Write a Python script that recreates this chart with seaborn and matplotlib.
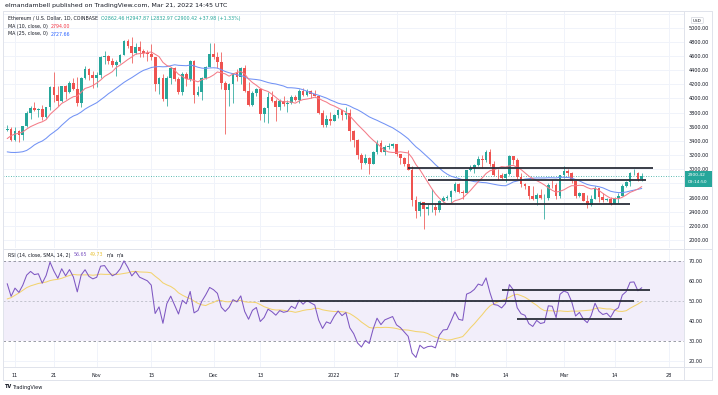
import numpy as np
import pandas as pd
import matplotlib
matplotlib.use("Agg")
import matplotlib.pyplot as plt
import seaborn as sns
from matplotlib.lines import Line2D
from matplotlib.patches import Rectangle, FancyBboxPatch

# ---------------- data ----------------
start_date = "2021-10-09"
# closes before the visible window (Aug 20 - Oct 8, 2021), used for MA / RSI warm-up
warmup_closes = [3285, 3225, 3240, 3320, 3175, 3225, 3100, 3275, 3245, 3225,
                 3225, 3430, 3830, 3785, 3940, 3885, 3950, 3925, 3430, 3495,
                 3425, 3210, 3265, 3410, 3285, 3430, 3610, 3570, 3395, 3430,
                 3330, 2975, 2760, 3075, 3155, 2930, 2925, 3065, 2930, 2805,
                 2850, 3000, 3310, 3390, 3420, 3385, 3515, 3585, 3590, 3560]

closes = [
    # Oct 9 - 31
    3575, 3415, 3545, 3490, 3605, 3790, 3865, 3830, 3845, 3745, 3875, 4155, 4055,
    3970, 4170, 4085, 4220, 4130, 3930, 4285, 4420, 4325, 4290,
    # Nov
    4325, 4590, 4605, 4535, 4480, 4520, 4620, 4810, 4735, 4640, 4730, 4665, 4645,
    4625, 4580, 4200, 4290, 3990, 4295, 4435, 4270, 4085, 4340, 4270, 4525, 4045,
    4095, 4295, 4445, 4630,
    # Dec
    4585, 4515, 4220, 4120, 4200, 4355, 4310, 4430, 4105, 3910, 4080, 4135, 3785,
    3860, 4020, 3960, 3880, 3960, 3925, 3940, 4020, 3980, 4110, 4045, 4100, 4065,
    4035, 3795, 3630, 3710, 3680,
    # Jan
    3765, 3830, 3760, 3795, 3540, 3420, 3195, 3085, 3155, 3080, 3240, 3375, 3250,
    3310, 3330, 3350, 3210, 3160, 3080, 2995, 2560, 2405, 2540, 2440, 2460, 2465,
    2420, 2545, 2600, 2605, 2690,
    # Feb
    2790, 2680, 2665, 2990, 3015, 3060, 3140, 3125, 3240, 3080, 2925, 2915, 2880,
    2930, 3185, 3125, 2885, 2790, 2765, 2625, 2575, 2640, 2590, 2600, 2780, 2775,
    2620, 2920,
    # Mar 1 - 21
    2970, 2950, 2835, 2620, 2665, 2555, 2495, 2575, 2730, 2610, 2560, 2575, 2515,
    2590, 2620, 2770, 2815, 2945, 2950, 2862.46, 2900.42]

highs = [
    3625, 3600, 3590, 3555, 3610, 3820, 3890, 3955, 3870, 3910, 3880, 4180, 4375,
    4170, 4175, 4185, 4240, 4290, 4300, 4305, 4460, 4435, 4395,
    4380, 4595, 4665, 4610, 4570, 4540, 4630, 4825, 4840, 4868, 4785, 4810, 4705,
    4690, 4770, 4590, 4300, 4345, 4320, 4450, 4445, 4300, 4380, 4375, 4550, 4550,
    4180, 4300, 4465, 4780,
    4780, 4650, 4650, 4240, 4225, 4360, 4420, 4440, 4480, 4230, 4100, 4150, 4140,
    3880, 4090, 4100, 3990, 3990, 4040, 3980, 4050, 4045, 4140, 4150, 4135, 4120,
    4125, 4040, 3830, 3770, 3810,
    3780, 3855, 3840, 3880, 3850, 3550, 3425, 3235, 3210, 3175, 3260, 3410, 3420,
    3345, 3365, 3370, 3360, 3215, 3175, 3270, 3040, 2615, 2550, 2540, 2510, 2725,
    2520, 2560, 2620, 2640, 2700,
    2815, 2800, 2700, 2995, 3060, 3070, 3185, 3200, 3275, 3285, 3110, 3010, 2950,
    2950, 3200, 3190, 3160, 2945, 2800, 2770, 2760, 2660, 2720, 2655, 2805, 2850,
    2800, 2925,
    3050, 3010, 2960, 2840, 2680, 2665, 2635, 2630, 2770, 2730, 2665, 2600, 2605,
    2610, 2660, 2790, 2830, 2960, 3000, 2960, 2947.87]

lows = [
    3540, 3400, 3400, 3390, 3415, 3595, 3705, 3820, 3735, 3690, 3720, 3840, 3950,
    3890, 3950, 3995, 4080, 4115, 3900, 3880, 4280, 4265, 4150,
    4160, 4290, 4490, 4485, 4440, 4320, 4505, 4615, 4710, 4500, 4630, 4580, 4580,
    4530, 4550, 4100, 4060, 3970, 3900, 4200, 4250, 4060, 4055, 4170, 4250, 3930,
    4040, 3980, 4280, 4440,
    4560, 4430, 4130, 3500, 3890, 3930, 4250, 4200, 4090, 3890, 3900, 4030, 3700,
    3665, 3650, 3950, 3680, 3830, 3900, 3810, 3920, 3960, 3930, 4040, 4030, 4000,
    4030, 3780, 3600, 3590, 3630,
    3680, 3720, 3700, 3715, 3400, 3320, 3150, 3000, 3080, 2930, 3070, 3220, 3240,
    3200, 3280, 3300, 3180, 3070, 3050, 2990, 2480, 2310, 2340, 2160, 2360, 2400,
    2360, 2390, 2530, 2560, 2520,
    2680, 2660, 2580, 2660, 2980, 2950, 3050, 3020, 3100, 3050, 2900, 2850, 2855,
    2820, 2925, 3080, 2860, 2750, 2720, 2580, 2560, 2500, 2580, 2300, 2570, 2740,
    2575, 2590,
    2870, 2910, 2810, 2600, 2610, 2545, 2450, 2475, 2575, 2540, 2540, 2555, 2500,
    2505, 2520, 2620, 2745, 2765, 2920, 2830, 2832.97]

# time-axis labels
tick_dates = ["2021-10-11", "2021-10-21", "2021-11-01", "2021-11-15", "2021-12-01",
              "2021-12-13", "2022-01-01", "2022-01-17", "2022-02-01", "2022-02-14",
              "2022-03-01", "2022-03-14", "2022-03-28"]
tick_labels = ["11", "21", "Nov", "15", "Dec", "13", "2022", "17", "Feb", "14",
               "Mar", "14", "28"]
# price axis labels (2800 is hidden behind the last-price tag)
price_ticks = [2000, 2200, 2400, 2600, 3000, 3200, 3400, 3600, 3800,
               4000, 4200, 4400, 4600, 4800, 5000]
rsi_ticks = [20, 30, 40, 50, 60, 70]

# hand-drawn horizontal levels: (start date, end date, value)
price_levels = [("2022-01-20", "2022-03-24", 3015),
                ("2022-01-25", "2022-03-22", 2848),
                ("2022-01-23", "2022-03-18", 2508)]
rsi_levels = [("2021-12-13", "2022-03-19", 50.2),
              ("2022-02-13", "2022-03-23", 55.4),
              ("2022-02-17", "2022-03-16", 41.0)]
last_price = 2900.42

# ---------------- colours ----------------
TEAL = "#26a69a"
RED = "#ef5350"
MA10_C = "#f47c88"
MA25_C = "#7293f5"
RSI_C = "#7e57c2"
RSI_MA_C = "#f3d36f"
GRID = "#f0f3fa"
BORDER = "#e0e3eb"
TXT = "#131722"
LEVEL_C = "#2a2e39"

sns.set_theme(style="white")
plt.rcParams["font.family"] = ["DejaVu Sans"]

W, H = 718, 395
fig = plt.figure(figsize=(W / 100, H / 100), dpi=100)
fig.patch.set_facecolor("white")


def fx(x):
    return x / W


def fy(y):
    return 1 - y / H


origin = pd.Timestamp("2021-10-11")


def day(d):
    return (pd.Timestamp(d) - origin).days


dates = pd.date_range(start_date, periods=len(closes), freq="D")
xs = np.array([(d - origin).days for d in dates], dtype=float)
c = np.array(closes, dtype=float)
o = np.array([warmup_closes[-1]] + closes[:-1], dtype=float)
h = np.array(highs, dtype=float)
l = np.array(lows, dtype=float)

allc = pd.Series(list(warmup_closes) + list(closes), dtype=float)
nw = len(warmup_closes)
ma10 = allc.rolling(10).mean().iloc[nw:].to_numpy()
ma25 = allc.rolling(25).mean().iloc[nw:].to_numpy()
delta = allc.diff()
gain = delta.clip(lower=0)
loss = (-delta).clip(lower=0)
ag = gain.ewm(alpha=1 / 14, adjust=False).mean()
al = loss.ewm(alpha=1 / 14, adjust=False).mean()
rsi_all = 100 - 100 / (1 + ag / al)
rsi = rsi_all.iloc[nw:].to_numpy()
rsi_ma = rsi_all.rolling(14).mean().iloc[nw:].to_numpy()

df = pd.DataFrame({"x": xs, "ma10": ma10, "ma25": ma25, "rsi": rsi, "rsi_ma": rsi_ma})

# ---------------- axes ----------------
ax = fig.add_axes([fx(3), fy(248), fx(684 - 3), (248 - 11) / H])
rax = fig.add_axes([fx(3), fy(367), fx(684 - 3), (367 - 249) / H])

xlim = (-3.08, 171.85)
for a in (ax, rax):
    a.set_xlim(*xlim)
    for s in a.spines.values():
        s.set_visible(False)
    a.set_facecolor("white")

ax.set_ylim(1887, 5236)
rax.set_ylim(17, 76)

tick_x = [day(d) for d in tick_dates]

# grids
for v in range(2000, 5300, 200):
    ax.axhline(v, color=GRID, lw=0.7, zorder=0)
for t in tick_x:
    ax.axvline(t, color=GRID, lw=0.7, zorder=0)
    rax.axvline(t, color=GRID, lw=0.7, zorder=0)
for v in (20, 40, 60):
    rax.axhline(v, color=GRID, lw=0.7, zorder=0)

# candles
up = c >= o
cols = np.where(up, TEAL, RED)
ax.vlines(xs, l, h, colors=cols, lw=0.55, zorder=2)
body = np.maximum(np.abs(c - o), 6)
ax.bar(xs, body, bottom=np.minimum(o, c), width=0.7, color=cols, lw=0, zorder=3)

# moving averages
sns.lineplot(data=df, x="x", y="ma25", ax=ax, color=MA25_C, lw=0.75, zorder=4)
sns.lineplot(data=df, x="x", y="ma10", ax=ax, color=MA10_C, lw=0.75, zorder=4)

# last price dotted line
ax.axhline(last_price, color=TEAL, lw=0.6, ls=(0, (1, 2)), zorder=1)

# levels
for a, b, v in price_levels:
    ax.plot([day(a), day(b)], [v, v], color=LEVEL_C, lw=1.3, zorder=6,
            solid_capstyle="butt")

# RSI pane
rax.axhspan(30, 70, color="#f2eefa", zorder=0, lw=0)
for v in (30, 70):
    rax.axhline(v, color="#8a8d97", lw=0.6, ls=(0, (3, 3)), zorder=1)
rax.axhline(50, color="#b0b3bd", lw=0.5, ls=(0, (3, 3)), zorder=1)
sns.lineplot(data=df, x="x", y="rsi_ma", ax=rax, color=RSI_MA_C, lw=0.75, zorder=3)
sns.lineplot(data=df, x="x", y="rsi", ax=rax, color=RSI_C, lw=0.75, zorder=4)
for a, b, v in rsi_levels:
    rax.plot([day(a), day(b)], [v, v], color=LEVEL_C, lw=1.3, zorder=6,
             solid_capstyle="butt")

# ticks
FS = 3.5
ax.set_xticks([])
ax.yaxis.tick_right()
ax.set_yticks(price_ticks)
ax.set_yticklabels([f"{v:.2f}" for v in price_ticks])
ax.tick_params(axis="y", length=0, pad=3.2, labelsize=FS, labelcolor=TXT)
rax.yaxis.tick_right()
rax.set_yticks(rsi_ticks)
rax.set_yticklabels([f"{v:.2f}" for v in rsi_ticks])
rax.tick_params(axis="y", length=0, pad=3.2, labelsize=FS, labelcolor=TXT)
rax.set_xticks(tick_x)
rax.set_xticklabels(tick_labels)
rax.tick_params(axis="x", length=0, pad=4.2, labelsize=FS, labelcolor=TXT)
for a in (ax, rax):
    a.set_xlabel("")
    a.set_ylabel("")
    leg = a.get_legend()
    if leg:
        leg.remove()

# frame lines
def fline(x0, y0, x1, y1, color=BORDER, lw=0.7):
    fig.add_artist(Line2D([fx(x0), fx(x1)], [fy(y0), fy(y1)], color=color, lw=lw,
                          transform=fig.transFigure))

fline(3, 11, 712, 11)
fline(3, 11, 3, 380)
fline(712, 11, 712, 380)
fline(684, 11, 684, 380)
fline(3, 248.5, 712, 248.5)
fline(3, 367, 712, 367)
fline(3, 380, 712, 380)

# price label box
fig.add_artist(Rectangle((fx(684.5), fy(186.5)), fx(27), 16 / H, color=TEAL,
                         transform=fig.transFigure, lw=0))
fig.text(fx(688), fy(175.0), "2900.42", color="white", fontsize=3.2, va="center")
fig.text(fx(688), fy(182.2), "09:14:50", color="white", fontsize=3.2, va="center")

# USD box
fig.add_artist(FancyBboxPatch((fx(692), fy(23)), fx(10.5), 5 / H,
                              boxstyle="round,pad=0.001", fc="white", ec="#c7cad3",
                              lw=0.4, transform=fig.transFigure))
fig.text(fx(697.2), fy(20.5), "USD", color=TXT, fontsize=3.0, va="center", ha="center")

# texts
renderer = fig.canvas.get_renderer()


def chain(x, y, parts, size, gap=2.0):
    for s, col in parts:
        t = fig.text(fx(x), fy(y), s, color=col, fontsize=size, va="center", ha="left")
        bb = t.get_window_extent(renderer)
        x = bb.x1 + gap


fig.text(fx(5), fy(6), "elmandambell published on TradingView.com, Mar 21, 2022 14:45 UTC",
         color=TXT, fontsize=4.5, va="center")
LF = 3.4
chain(8, 18.5, [("Ethereum / U.S. Dollar, 1D, COINBASE", TXT),
                ("O2862.46 H2947.87 L2832.97 C2900.42 +37.98 (+1.33%)", TEAL)], LF, gap=3)
chain(8, 26.3, [("MA (10, close, 0)", TXT), ("2794.00", "#f23645")], LF, gap=3)
chain(8, 34, [("MA (25, close, 0)", TXT), ("2727.66", "#2962ff")], LF, gap=3)
chain(8, 255, [("RSI (14, close, SMA, 14, 2)", TXT), ("56.65", RSI_C),
               ("49.73", "#e8c33a"), ("n/a", TXT), ("n/a", TXT)], LF, gap=3)

fig.text(fx(5), fy(387), "TV", color=TXT, fontsize=3.6, fontweight="bold", va="center")
fig.text(fx(12.5), fy(387), "TradingView", color=TXT, fontsize=3.6, va="center")

fig.savefig("out.png", dpi=100, facecolor="white")
